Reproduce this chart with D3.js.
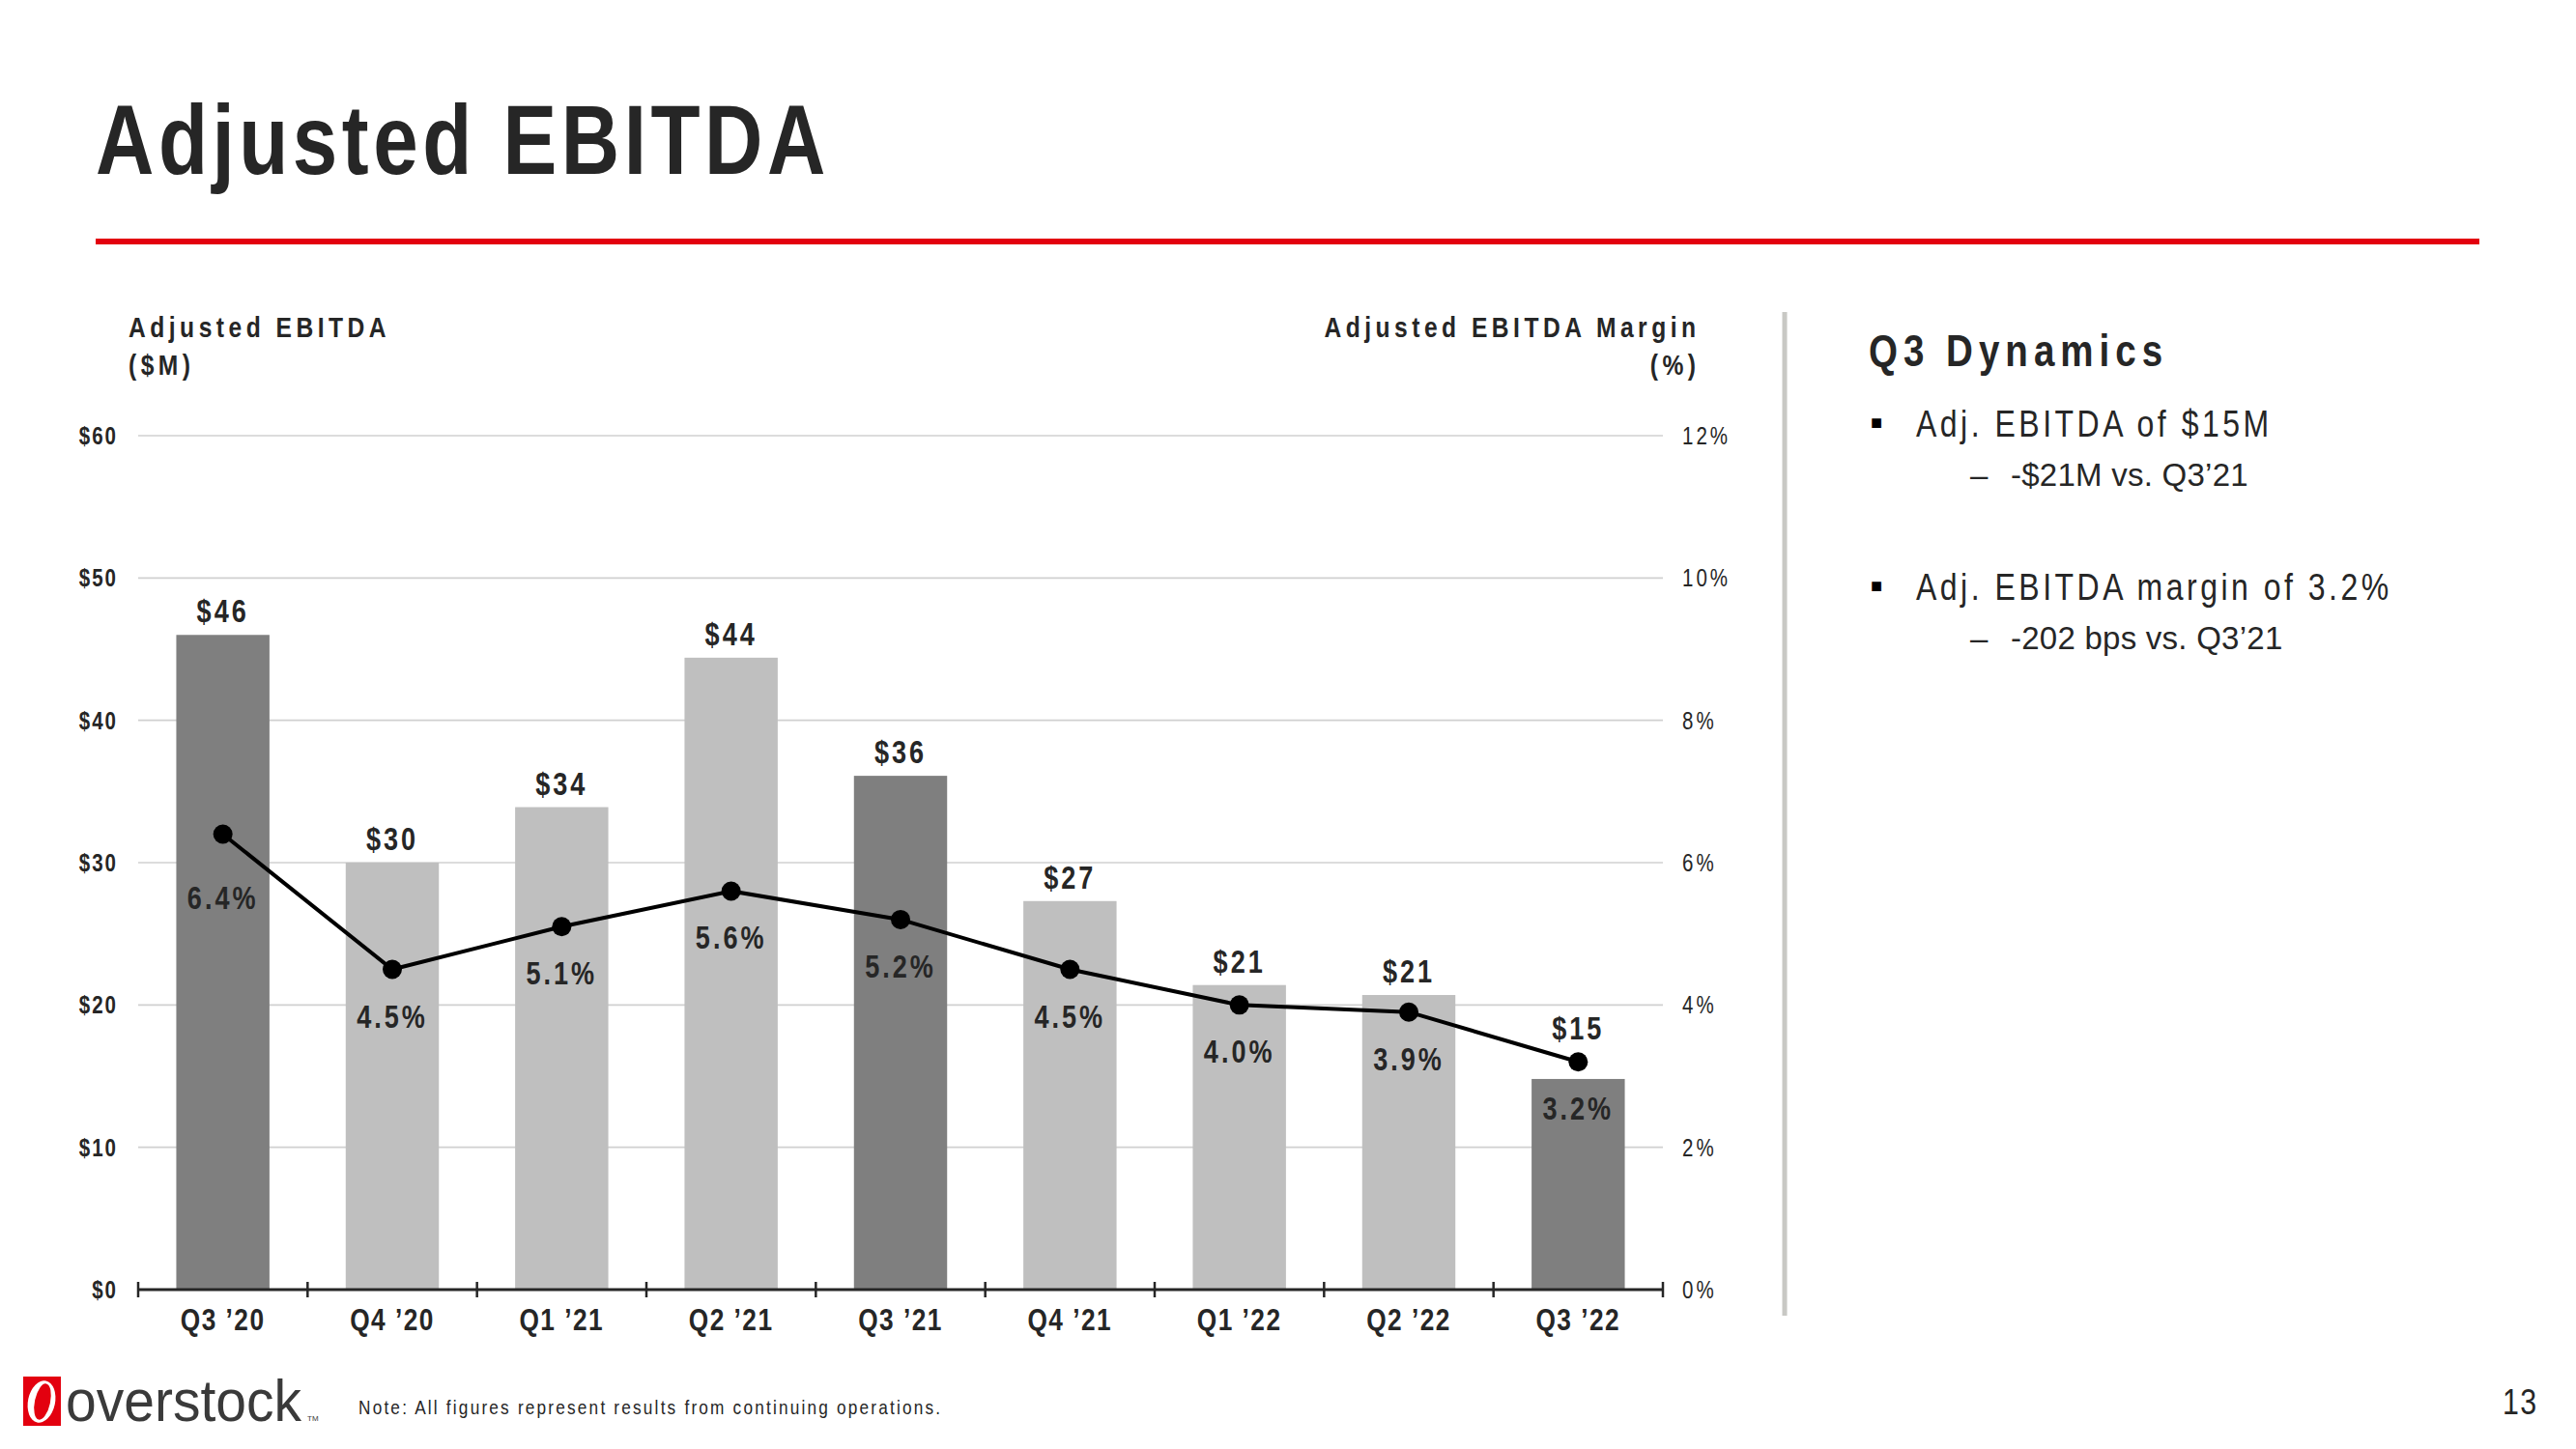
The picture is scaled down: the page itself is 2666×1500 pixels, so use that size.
<!DOCTYPE html>
<html>
<head>
<meta charset="utf-8">
<script src="https://cdn.jsdelivr.net/npm/d3@7"></script>
<style>
  html, body { margin: 0; padding: 0; background: #fff; }
  svg { display: block; }
  text { font-family: 'Liberation Sans', Arial, sans-serif; }
</style>
</head>
<body>
<script>
// ---------- data ----------
const categories = ["Q3 \u201920", "Q4 \u201920", "Q1 \u201921", "Q2 \u201921", "Q3 \u201921", "Q4 \u201921", "Q1 \u201922", "Q2 \u201922", "Q3 \u201922"];
const ebitda = [46.0, 30.0, 33.9, 44.4, 36.1, 27.3, 21.4, 20.7, 14.8];   // $M
const margin = [6.4, 4.5, 5.1, 5.6, 5.2, 4.5, 4.0, 3.9, 3.2];           // %
const highlighted = ["Q3 \u201920", "Q3 \u201921", "Q3 \u201922"];
const leftTicks = [0, 10, 20, 30, 40, 50, 60];
const rightTicks = [0, 2, 4, 6, 8, 10, 12];
const bullets = [
  { main: "Adj. EBITDA of $15M", sub: "-$21M vs. Q3\u201921" },
  { main: "Adj. EBITDA margin of 3.2%", sub: "-202 bps vs. Q3\u201921" }
];

// ---------- layout ----------
const W = 2666, H = 1500;
const plot = { left: 143, right: 1721, top: 451, bottom: 1335 };
const ink = "#262626";
const NARROW = 0.82;   // emulate Arial Narrow by condensing Liberation Sans

const svg = d3.select("body").append("svg").attr("width", W).attr("height", H);

// title + red rule
svg.append("text").attr("class", "n").attr("x", 99).attr("y", 180)
  .attr("font-size", 102).attr("font-weight", 700).attr("letter-spacing", 4.5)
  .attr("fill", ink).text("Adjusted EBITDA");
svg.append("line").attr("x1", 99).attr("x2", 2566).attr("y1", 250).attr("y2", 250)
  .attr("stroke", "#e3000f").attr("stroke-width", 6);

// scales
const x = d3.scaleBand().domain(categories).range([plot.left, plot.right]).paddingInner(0.45).paddingOuter(0.225);
const xb = d3.scaleBand().domain(categories).range([plot.left, plot.right]).padding(0);
const y = d3.scaleLinear().domain([0, 60]).range([plot.bottom, plot.top]);
const yR = d3.scaleLinear().domain([0, 12]).range([plot.bottom, plot.top]);

// gridlines
svg.append("g").selectAll("line").data(leftTicks.filter(d => d > 0)).join("line")
  .attr("x1", plot.left).attr("x2", plot.right)
  .attr("y1", d => y(d)).attr("y2", d => y(d))
  .attr("stroke", "#d0d0d0").attr("stroke-width", 1.6);

// left axis labels
svg.append("g").selectAll("text").data(leftTicks).join("text")
  .attr("class", "n").attr("x", 120).attr("y", d => y(d) + 9)
  .attr("text-anchor", "end").attr("font-size", 25).attr("font-weight", 700)
  .attr("letter-spacing", 2).attr("fill", ink).text(d => "$" + d);

// right axis labels
svg.append("g").selectAll("text").data(rightTicks).join("text")
  .attr("class", "n").attr("x", 1741).attr("y", d => yR(d) + 9)
  .attr("font-size", 25).attr("letter-spacing", 3).attr("fill", ink).text(d => d + "%");

// axis titles
[["Adjusted EBITDA", 349], ["($M)", 388]].forEach(([t, yy]) =>
  svg.append("text").attr("class", "n").attr("x", 133).attr("y", yy)
    .attr("font-size", 30).attr("font-weight", 700).attr("letter-spacing", 4.5)
    .attr("fill", ink).text(t));
[["Adjusted EBITDA Margin", 349], ["(%)", 388]].forEach(([t, yy]) =>
  svg.append("text").attr("class", "n").attr("x", 1755).attr("y", yy)
    .attr("text-anchor", "end").attr("font-size", 30).attr("font-weight", 700)
    .attr("letter-spacing", 4.5).attr("fill", ink).text(t));

// bars
const data = categories.map((c, i) => ({ c, v: ebitda[i], m: margin[i], i }));
svg.append("g").selectAll("rect").data(data).join("rect")
  .attr("x", d => x(d.c)).attr("width", x.bandwidth())
  .attr("y", d => y(d.v)).attr("height", d => y(0) - y(d.v))
  .attr("fill", d => highlighted.includes(d.c) ? "#7f7f7f" : "#bfbfbf");

// x axis line + ticks
svg.append("line").attr("x1", plot.left).attr("x2", plot.right)
  .attr("y1", y(0)).attr("y2", y(0)).attr("stroke", ink).attr("stroke-width", 3);
const bounds = categories.map(c => xb(c)).concat([plot.right]);
svg.append("g").selectAll("line").data(bounds).join("line")
  .attr("x1", d => d).attr("x2", d => d).attr("y1", y(0) - 8).attr("y2", y(0) + 8)
  .attr("stroke", ink).attr("stroke-width", 2.5);

// x labels
svg.append("g").selectAll("text").data(categories).join("text")
  .attr("class", "n").attr("x", d => x(d) + x.bandwidth() / 2).attr("y", 1377)
  .attr("text-anchor", "middle").attr("font-size", 32).attr("font-weight", 700)
  .attr("letter-spacing", 1.5).attr("fill", ink).text(d => d);

// margin line
const cx = d => x(d.c) + x.bandwidth() / 2;
svg.append("path").datum(data)
  .attr("d", d3.line().x(cx).y(d => yR(d.m)))
  .attr("fill", "none").attr("stroke", "#000").attr("stroke-width", 4);
svg.append("g").selectAll("circle").data(data).join("circle")
  .attr("cx", cx).attr("cy", d => yR(d.m)).attr("r", 10).attr("fill", "#000");

// value labels (above bar, or above the dot if the dot sits higher)
svg.append("g").selectAll("text").data(data).join("text")
  .attr("class", "n").attr("x", cx)
  .attr("y", d => Math.min(y(d.v), yR(d.m) - 10) - 13)
  .attr("text-anchor", "middle").attr("font-size", 33).attr("font-weight", 700)
  .attr("letter-spacing", 3).attr("fill", ink).text(d => "$" + Math.round(d.v));

// margin labels (below dot; pushed lower when the next segment drops steeply)
svg.append("g").selectAll("text").data(data).join("text")
  .attr("class", "n").attr("x", cx)
  .attr("y", d => {
    const base = yR(d.m) + 60;
    const nxt = data[d.i + 1];
    const steep = nxt && (yR(nxt.m) - yR(d.m)) / (cx(nxt) - cx(d)) > 0.6;
    return steep ? base + 17 : base;
  })
  .attr("text-anchor", "middle").attr("font-size", 33).attr("font-weight", 700)
  .attr("letter-spacing", 3).attr("fill", ink).text(d => d3.format(".1f")(d.m) + "%");

// vertical separator
svg.append("line").attr("x1", 1847).attr("x2", 1847).attr("y1", 323).attr("y2", 1362)
  .attr("stroke", "#c8c8c4").attr("stroke-width", 5);

// right panel
svg.append("text").attr("class", "n").attr("x", 1934).attr("y", 379)
  .attr("font-size", 47).attr("font-weight", 700).attr("letter-spacing", 6)
  .attr("fill", ink).text("Q3 Dynamics");
const bY = [452, 621];
bullets.forEach((b, k) => {
  svg.append("text").attr("x", 1936).attr("y", bY[k] - 8)
    .attr("font-family", "'DejaVu Sans', sans-serif")
    .attr("font-size", 20).attr("fill", "#000").text("\u25A0");
  svg.append("text").attr("class", "n").attr("x", 1983).attr("y", bY[k])
    .attr("font-size", 39).attr("letter-spacing", 3.5).attr("fill", ink).text(b.main);
  svg.append("text").attr("x", 2039).attr("y", bY[k] + 51)
    .attr("font-size", 33).attr("fill", ink).text("\u2013");
  svg.append("text").attr("x", 2081).attr("y", bY[k] + 51)
    .attr("font-size", 33).attr("letter-spacing", 0.25).attr("fill", ink).text(b.sub);
});

// footer: logo
const logo = svg.append("g");
logo.append("rect").attr("x", 24).attr("y", 1425).attr("width", 39).attr("height", 51).attr("fill", "#e3000f");
logo.append("ellipse").attr("cx", 43).attr("cy", 1451).attr("rx", 14).attr("ry", 22)
  .attr("fill", "#fff").attr("transform", "rotate(12 43 1451)");
logo.append("ellipse").attr("cx", 44).attr("cy", 1451).attr("rx", 8).attr("ry", 19)
  .attr("fill", "#e3000f").attr("transform", "rotate(12 44 1451)");
logo.append("text").attr("transform", "translate(68,1471) scale(0.92,1)")
  .attr("font-size", 62).attr("fill", "#3a3a3a").text("overstock");
logo.append("text").attr("x", 318).attr("y", 1471)
  .attr("font-size", 8).attr("fill", "#3a3a3a").text("TM");

// note + page number
svg.append("text").attr("class", "n").attr("x", 371).attr("y", 1464)
  .attr("font-size", 21).attr("letter-spacing", 2.2).attr("fill", ink)
  .text("Note: All figures represent results from continuing operations.");
svg.append("text").attr("class", "n").attr("x", 2590).attr("y", 1464)
  .attr("font-size", 37).attr("letter-spacing", 1.5).attr("fill", ink).text("13");

// condense all ".n" texts horizontally around their anchor point
svg.selectAll("text.n").each(function () {
  const t = d3.select(this);
  const tx = +t.attr("x"), ty = +t.attr("y");
  const ls = +(t.attr("letter-spacing") || 0);
  t.attr("x", 0).attr("y", 0)
   .attr("letter-spacing", ls / NARROW)
   .attr("transform", `translate(${tx},${ty}) scale(${NARROW},1)`);
  if (t.attr("text-anchor") === "end") t.attr("dx", ls / NARROW);
});
</script>
</body>
</html>
